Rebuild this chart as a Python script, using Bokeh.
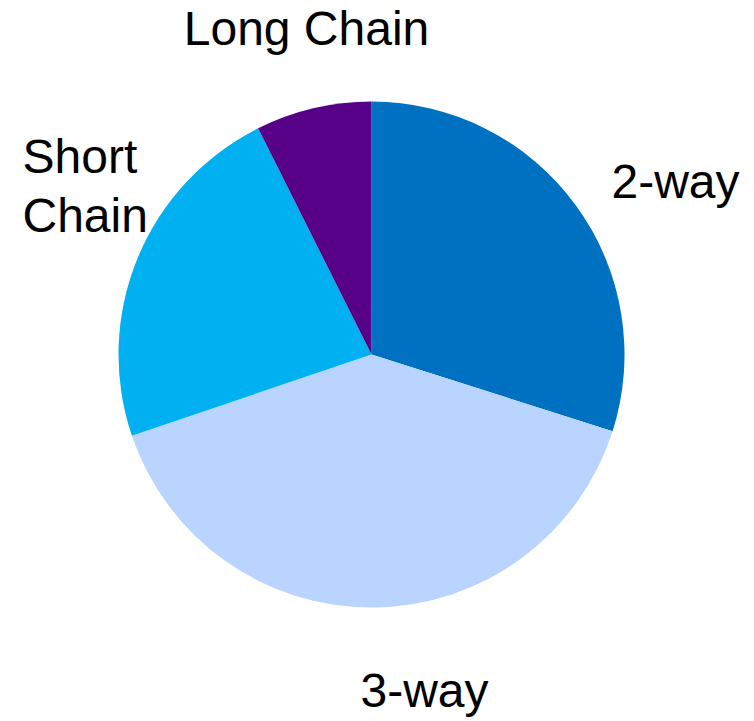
import math
from bokeh.plotting import figure
from bokeh.models import Range1d, ColumnDataSource
from bokeh.core.properties import value
from bokeh.embed import file_html
from bokeh.resources import INLINE

# data
categories = ["2-way", "3-way", "Short Chain", "Long Chain"]
shares = [29.9, 39.9, 22.8, 7.4]
colors = ["#0070C0", "#B9D4FF", "#00B0F0", "#570088"]

W, H = 754, 721
cx, cy, r = 371, H - 354, 253

total = sum(shares)
starts, ends = [], []
cum = 0.0
for s in shares:
    starts.append(math.pi / 2 - 2 * math.pi * cum / total)
    cum += s
    ends.append(math.pi / 2 - 2 * math.pi * cum / total)

p = figure(width=W, height=H, output_backend="svg", toolbar_location=None,
           x_range=Range1d(0, W), y_range=Range1d(0, H), min_border=0)
p.axis.visible = False
p.grid.visible = False
p.outline_line_color = None
p.background_fill_color = "white"
p.border_fill_color = "white"

src = ColumnDataSource(dict(start=starts, end=ends, color=colors, cat=categories))
p.wedge(x=cx, y=cy, radius=r, start_angle="start", end_angle="end",
        direction="clock", fill_color="color", line_color=None, source=src)

# label layout (pixel positions, baseline)
OFF = 17
label_layout = [
    ("2-way", 675, 198, "center"),
    ("3-way", 424, 707, "center"),
    ("Short\nChain", 22, 173, "left"),
    ("Long Chain", 306, 45, "center"),
]
for txt, x, yb, align in label_layout:
    lines = txt.split("\n")
    for i, ln in enumerate(lines):
        p.text(x=[x], y=[H - (yb - OFF + i * 59)], text=[ln],
               text_font=value("Liberation Sans"), text_font_size="48px",
               text_color="black", text_align=align, text_baseline="alphabetic")

open("out.html", "w").write(file_html(p, INLINE))
